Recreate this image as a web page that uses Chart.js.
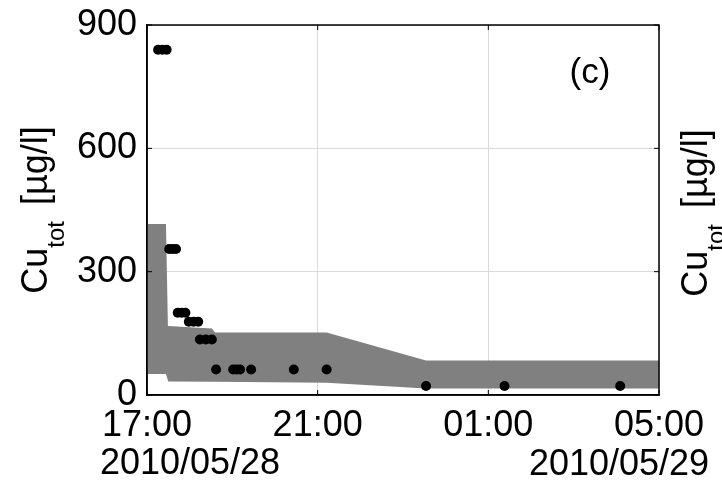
<!DOCTYPE html>
<html>
<head>
<meta charset="utf-8">
<script src="https://cdn.jsdelivr.net/npm/chart.js@4/dist/chart.umd.min.js"></script>
<style>
  body { margin: 0; background: #fff; }
</style>
</head>
<body>
<canvas id="chart" width="722" height="490"></canvas>
<script>
// hours after 2010/05/28 17:00
const dotHours = [0.26, 0.36, 0.46, 0.52, 0.6, 0.68, 0.72, 0.81, 0.9, 0.98, 1.09, 1.2,
  1.24, 1.38, 1.52, 1.62, 2.02, 2.1, 2.18, 2.44, 3.44, 4.21, 6.54, 8.38, 11.09];
const dotValues = [840, 840, 840, 355, 355, 355, 200, 200, 200, 178, 178, 178,
  135, 135, 135, 62, 62, 62, 62, 62, 62, 62, 22, 22, 22];

// uncertainty band (upper / lower edge)
const bandHours = [0, 0.445, 0.49, 0.5, 1.52, 1.6, 4.21, 6.54, 12];
const bandUpper = [416, 416, 168, 168, 162, 152, 152, 84, 84];
const bandLower = [51, 51, 35, 33, 32, 32, 30, 16, 16];

const xTickHours = [0, 4, 8, 12];
const xTickLabels = ["17:00", "21:00", "01:00", "05:00"];
const yTickValues = [0, 300, 600, 900];
const dateLabels = ["2010/05/28", "2010/05/29"];
const panelLabel = "(c)";

const FONT = "Liberation Sans, Arial, sans-serif";

function toPoints(xs, ys) {
  return xs.map((x, i) => ({ x: x, y: ys[i] }));
}

function drawYTitle(ctx, xBase, yCenter) {
  ctx.save();
  ctx.translate(xBase, yCenter);
  ctx.rotate(-Math.PI / 2);
  ctx.fillStyle = "#000";
  ctx.textBaseline = "alphabetic";
  ctx.textAlign = "left";
  ctx.font = "36px " + FONT;
  const w1 = ctx.measureText("Cu").width;
  const w3 = ctx.measureText("[µg/l]").width;
  ctx.font = "24px " + FONT;
  const w2 = ctx.measureText("tot").width;
  const gap = 16;
  let x = -(w1 + w2 + gap + w3) / 2;
  ctx.font = "36px " + FONT;
  ctx.fillText("Cu", x, 0);
  x += w1;
  ctx.font = "24px " + FONT;
  ctx.fillText("tot", x, 17);
  x += w2 + gap;
  ctx.font = "36px " + FONT;
  ctx.fillText("[µg/l]", x, 0);
  ctx.restore();
}

const extras = {
  id: "extras",
  afterDraw(chart) {
    const ctx = chart.ctx;
    const a = chart.chartArea;
    const xs = chart.scales.x;
    const ys = chart.scales.y;
    ctx.save();
    // frame
    ctx.strokeStyle = "#000";
    ctx.lineWidth = 1.5;
    ctx.strokeRect(a.left, a.top, a.right - a.left, a.bottom - a.top);
    // inward ticks
    ctx.lineWidth = 1;
    ctx.beginPath();
    xTickHours.forEach(h => {
      const px = xs.getPixelForValue(h);
      ctx.moveTo(px, a.bottom); ctx.lineTo(px, a.bottom - 5);
      ctx.moveTo(px, a.top); ctx.lineTo(px, a.top + 5);
    });
    yTickValues.forEach(v => {
      const py = ys.getPixelForValue(v);
      ctx.moveTo(a.left, py); ctx.lineTo(a.left + 5, py);
      ctx.moveTo(a.right, py); ctx.lineTo(a.right - 5, py);
    });
    ctx.stroke();
    // date lines under the time ticks
    ctx.fillStyle = "#000";
    ctx.font = "36px " + FONT;
    ctx.textAlign = "center";
    ctx.textBaseline = "alphabetic";
    ctx.fillText(dateLabels[0], 190, 474);
    ctx.fillText(dateLabels[1], 619, 475);
    // panel label
    ctx.font = "35px " + FONT;
    ctx.fillText(panelLabel, 590, 83);
    ctx.restore();
    drawYTitle(ctx, 47, 210);
    drawYTitle(ctx, 707, 213);
  }
};

new Chart(document.getElementById("chart"), {
  type: "scatter",
  data: {
    datasets: [
      {
        data: toPoints(dotHours, dotValues),
        backgroundColor: "#000",
        borderWidth: 0,
        pointRadius: 5,
        order: 0,
      },
      {
        data: toPoints(bandHours, bandUpper),
        showLine: true,
        borderWidth: 0,
        borderColor: "#808080",
        backgroundColor: "#808080",
        pointRadius: 0,
        fill: "+1",
        order: 1,
      },
      {
        data: toPoints(bandHours, bandLower),
        showLine: true,
        borderWidth: 0,
        borderColor: "#808080",
        backgroundColor: "#808080",
        pointRadius: 0,
        fill: false,
        order: 2,
      },
    ],
  },
  options: {
    responsive: false,
    animation: false,
    layout: { padding: { left: 0, right: 63, top: 25, bottom: 0 } },
    plugins: { legend: { display: false }, tooltip: { enabled: false } },
    scales: {
      x: {
        type: "linear",
        min: 0,
        max: 12,
        afterBuildTicks: s => { s.ticks = xTickHours.map(v => ({ value: v })); },
        afterFit: s => { s.height = 95; s.paddingLeft = 0; s.paddingRight = 0; },
        grid: { color: "#dadada", lineWidth: 1, drawTicks: false },
        border: { color: "#000", width: 1.5 },
        ticks: {
          color: "#000",
          font: { family: FONT, size: 36 },
          padding: 9,
          maxRotation: 0,
          autoSkip: false,
          callback: (v, i) => xTickLabels[i],
        },
      },
      y: {
        min: 0,
        max: 900,
        afterBuildTicks: s => { s.ticks = yTickValues.map(v => ({ value: v })); },
        afterFit: s => { s.width = 147; s.paddingTop = 0; s.paddingBottom = 0; },
        grid: { color: "#dadada", lineWidth: 1, drawTicks: false },
        border: { color: "#000", width: 1.5 },
        ticks: {
          color: "#000",
          font: { family: FONT, size: 36 },
          padding: 10,
        },
      },
    },
  },
  plugins: [extras],
});
</script>
</body>
</html>
